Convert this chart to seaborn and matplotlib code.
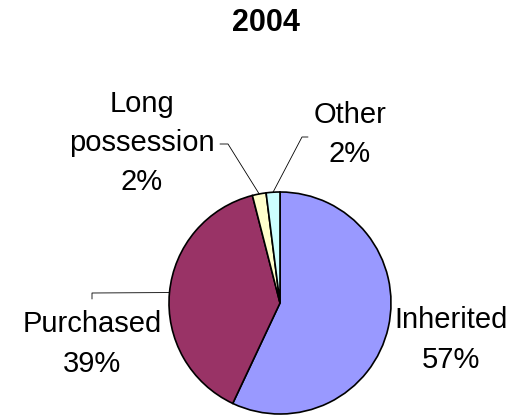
import numpy as np
import matplotlib
matplotlib.use("Agg")
import matplotlib.pyplot as plt
import seaborn as sns

# ---- data ----
title = "2004"
categories = ["Inherited", "Purchased", "Long\npossession", "Other"]
values = [57, 39, 2, 2]
pct_labels = ["57%", "39%", "2%", "2%"]

# ---- style ----
sns.set_theme(style="white")
plt.rcParams["font.family"] = ["Liberation Sans", "DejaVu Sans"]
colors = sns.color_palette(["#9999FF", "#993366", "#FFFFCC", "#CCFFFF"])

W, H = 514, 417
fig = plt.figure(figsize=(W / 100, H / 100), dpi=100)
ax = fig.add_axes([0, 0, 1, 1])

cx, cy, r = 280, H - 303, 111
wedges, _ = ax.pie(values, colors=colors, startangle=90, counterclock=False,
                   center=(cx, cy), radius=r,
                   wedgeprops=dict(edgecolor="black", linewidth=1.2))
ax.set_xlim(0, W)
ax.set_ylim(0, H)
ax.set_aspect("auto")
ax.axis("off")

# label layout (pixel coords, top-origin) and leader elbows
label_pos = [(451, 340), (92, 344), (142, 143), (350, 134)]
elbows = [None, [(92, 299), (92, 293)], [(220, 144), (228, 144)], [(308, 137), (302, 137)]]

for w, cat, pct, (lx, ly), elb in zip(wedges, categories, pct_labels, label_pos, elbows):
    ax.text(lx, H - ly, f"{cat}\n{pct}", ha="center", va="center",
            fontsize=21, color="black", linespacing=1.5)
    if elb is not None:
        mid = np.deg2rad((w.theta1 + w.theta2) / 2)
        ex, ey = cx + r * np.cos(mid), cy + r * np.sin(mid)
        xs = [p[0] for p in elb] + [ex]
        ys = [H - p[1] for p in elb] + [ey]
        ax.plot(xs, ys, color="black", linewidth=0.6)

ax.text(266, H - 23, title, ha="center", va="center", fontsize=22,
        fontweight="bold", color="black")

fig.savefig("out.png", dpi=100)
